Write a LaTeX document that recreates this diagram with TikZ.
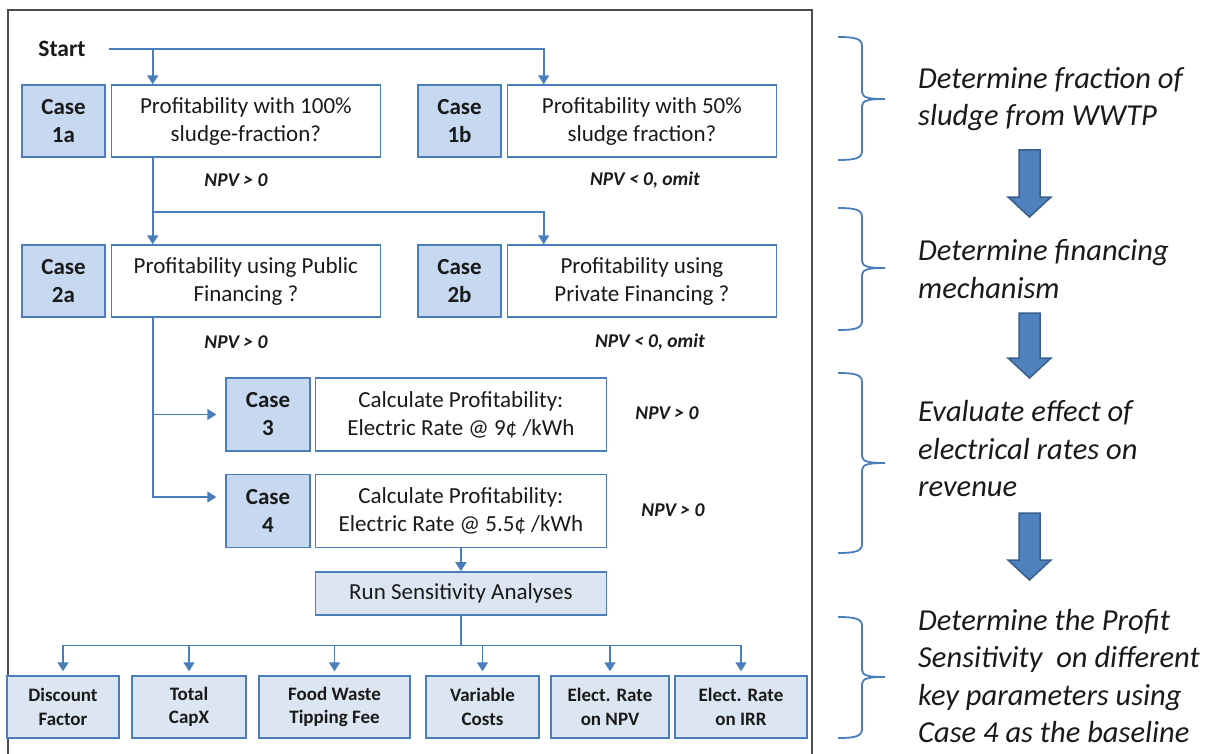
\documentclass[tikz,border=0pt]{standalone}
\usepackage{fontspec}
\setmainfont{Carlito}
\usepackage{tikz}
\usetikzlibrary{positioning}
\usetikzlibrary{arrows.meta}
\tikzset{>={Triangle[width=11pt,length=9pt]}}
\definecolor{lineblue}{HTML}{4A7EBB}
\definecolor{caseblue}{HTML}{C6D9F1}
\definecolor{paleblue}{HTML}{DCE6F2}
\definecolor{arrowblue}{HTML}{4F81BD}
\definecolor{arrowedge}{HTML}{385D8A}
\definecolor{textgray}{HTML}{1A1A1A}

\begin{document}
\begin{tikzpicture}[x=1pt, y=-1pt, every node/.style={text=textgray},
  casenode/.style={draw=lineblue, fill=caseblue, line width=1.4pt, minimum width=83pt, minimum height=72pt, inner sep=0pt, align=center, font=\bfseries\fontsize{23}{28}\selectfont},
  textnode/.style={draw=lineblue, fill=white, line width=1.4pt, minimum width=269pt, minimum height=72pt, inner sep=0pt, align=center, font=\fontsize{23}{28}\selectfont},
  parnode/.style={draw=lineblue, fill=paleblue, line width=1.4pt, minimum height=62pt, inner sep=0pt, align=center, font=\bfseries\fontsize{19}{23.5}\selectfont},
  npvnode/.style={font=\bfseries\itshape\fontsize{19.5}{23}\selectfont},
  stagenode/.style={anchor=west, align=left, inner sep=0pt, font=\itshape\fontsize{30.5}{37.5}\selectfont},
  flow/.style={draw=lineblue, line width=1.6pt},
  bracket/.style={draw=lineblue, line width=1.8pt},
  bigarrow/.style={draw=arrowedge, fill=arrowblue, line width=1.5pt, line join=miter}]

    \useasboundingbox (0,0) rectangle (1217,754);
    \draw[black!70, line width=1.2pt] (8,10) rectangle (812,790);

    %Nodes
    \node[font=\bfseries\fontsize{23.5}{28}\selectfont] (start) at (62,49) {Start};
    \node[casenode] (case1a) at (63.5,121) {Case\\1a};
    \node[textnode, right=5pt of case1a] (text1a) {Profitability with 100\%\\sludge-fraction?};
    \node[casenode] (case1b) at (459.5,121) {Case\\1b};
    \node[textnode, right=5pt of case1b] (text1b) {Profitability with 50\%\\sludge fraction?};
    \node[npvnode] (npv1a) at (236,180) {NPV > 0};
    \node[npvnode] (npv1b) at (645,180) {NPV < 0, omit};

    \node[casenode] (case2a) at (63.5,281) {Case\\2a};
    \node[textnode, right=5pt of case2a] (text2a) {Profitability using Public\\Financing ?};
    \node[casenode] (case2b) at (459.5,281) {Case\\2b};
    \node[textnode, right=5pt of case2b] (text2b) {Profitability using\\Private Financing ?};
    \node[npvnode] (npv2a) at (236,342) {NPV > 0};
    \node[npvnode] (npv2b) at (650,342) {NPV < 0, omit};

    \node[casenode, minimum width=84pt, minimum height=73pt] (case3) at (268,414.5) {Case\\3};
    \node[textnode, minimum width=291pt, minimum height=73pt, right=4pt of case3] (text3) {Calculate Profitability:\\Electric Rate @ 9¢ /kWh};
    \node[npvnode] (npv3) at (667,413) {NPV > 0};
    \node[casenode, minimum width=84pt, minimum height=73pt] (case4) at (268,511) {Case\\4};
    \node[textnode, minimum width=291pt, minimum height=73pt, right=4pt of case4] (text4) {Calculate Profitability:\\Electric Rate @ 5.5¢ /kWh};
    \node[npvnode] (npv4) at (673,510) {NPV > 0};

    \node[parnode, font=\fontsize{23}{28}\selectfont, minimum width=291pt, minimum height=43pt, below=23pt of text4] (run) {Run Sensitivity Analyses};

    \node[parnode, minimum width=112pt] (disc) at (63,707) {Discount\\Factor};
    \node[parnode, minimum width=114pt] (capx) at (189,707) {Total\\CapX};
    \node[parnode, minimum width=151pt] (food) at (334.5,707) {Food Waste\\Tipping Fee};
    \node[parnode, minimum width=113pt] (var) at (482.5,707) {Variable\\Costs};
    \node[parnode, minimum width=118pt] (elnpv) at (610,707) {Elect. Rate\\on NPV};
    \node[parnode, minimum width=132pt] (elirr) at (741,707) {Elect. Rate\\on IRR};

    \node[stagenode] (stage1) at (918,99) {Determine fraction of\\sludge from WWTP};
    \node[stagenode] (stage2) at (918,269) {Determine financing\\mechanism};
    \node[stagenode] (stage3) at (918,449) {Evaluate effect of\\electrical rates on\\revenue};
    \node[stagenode] (stage4) at (918,676) {Determine the Profit\\Sensitivity\ \ on different\\key parameters using\\Case 4 as the baseline};

    %Lines
    \draw[flow,->] ([xshift=20pt]start.east) -| ([xshift=37pt]text1b.north west);
    \draw[flow,->] ([xshift=42pt]text1a.north west |- start.east) -- ([xshift=42pt]text1a.north west);
    \draw[flow,->] ([xshift=42pt]text1a.south west) -- ([xshift=42pt]text2a.north west);
    \draw[flow,->] ([xshift=42pt,yshift=-54pt]text1a.south west) -| ([xshift=37pt]text2b.north west);
    \draw[flow,->,shorten >=9pt] ([xshift=42pt]text2a.south west) |- (case3.west);
    \draw[flow,->,shorten >=9pt] ([xshift=42pt]text2a.south west) |- ([yshift=14pt]case4.west);
    \draw[flow,->] (text4.south) -- (run.north);
    \foreach \p in {disc,capx,food,var,elnpv,elirr}
        \draw[flow,->,shorten >=4pt] (run.south) -- ++(0,30) -| (\p.north);

    %Braces and block arrows
    \foreach \top/\tip/\bot in {37/99/160, 208/268/330, 373/463/553, 617/677/738}
        \draw[bracket] (838,\top) .. controls (856,\top) and (862,\top+2) .. (862,\top+9) -- (862,\tip-7) .. controls (862,\tip-1) and (870,\tip) .. (885,\tip) .. controls (870,\tip) and (862,\tip+1) .. (862,\tip+7) -- (862,\bot-9) .. controls (862,\bot-2) and (856,\bot) .. (838,\bot);
    \foreach \top/\neck/\tip in {150/197/217, 313/358/378, 513/560/580}
        \draw[bigarrow] (1019,\top) -- (1040,\top) -- (1040,\neck) -- (1051,\neck) -- (1029.5,\tip) -- (1008,\neck) -- (1019,\neck) -- cycle;

\end{tikzpicture}
\end{document}
